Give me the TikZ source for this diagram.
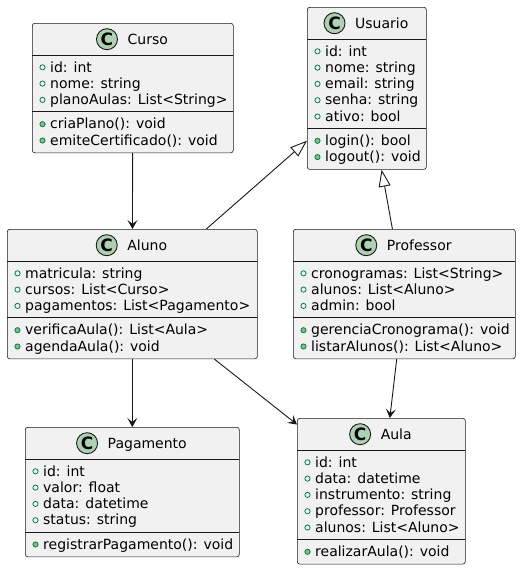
\documentclass[tikz,border=0pt]{standalone}
\usepackage{fontspec}
\setmainfont{DejaVu Sans}
\usetikzlibrary{arrows.meta}
\definecolor{boxfill}{HTML}{F1F1F1}
\definecolor{boxline}{HTML}{181818}
\definecolor{iconfill}{HTML}{ADD1B2}
\definecolor{markline}{HTML}{038048}
\definecolor{markfill}{HTML}{84BE84}
\tikzset{
  member/.style={anchor=base west, inner sep=0pt, font=\fontsize{14}{16.3}\selectfont},
  classtitle/.style={anchor=base, inner sep=0pt, text height=10.2pt, text depth=0pt, font=\fontsize{14}{16.3}\selectfont},
  classicon/.style={circle, draw=boxline, line width=0.9pt, fill=iconfill, inner sep=0pt,
    minimum size=21pt, text height=12.4pt, text depth=0pt, label distance=9.5pt,
    font=\fontsize{17}{17}\selectfont\bfseries},
  attrmark/.style={draw=markline, line width=0.8pt},
  methmark/.style={draw=markline, line width=0.8pt, fill=markfill},
  assoc/.style={draw=boxline, line width=0.9pt, -{Stealth[length=9pt, width=10pt, inset=4pt]}},
  extends/.style={draw=boxline, line width=0.9pt, -{Triangle[open, length=17pt, width=12pt, fill=white]}},
  uml class/.pic={
    \tikzset{/umlclass/.cd, #1}
    \foreach \a [count=\i] in \classattrs {\xdef\nattrs{\i}}
    \foreach \m [count=\i] in \classmethods {\xdef\nmethods{\i}}
    \pgfmathsetmacro\attrtop{32}
    \pgfmathsetmacro\methtop{32+\nattrs*16.3+8}
    \pgfmathsetmacro\classheight{\methtop+\nmethods*16.3+8}
    \node [draw=boxline, line width=0.6pt, fill=boxfill, rounded corners=2.5pt, inner sep=0pt,
      anchor=north west, minimum width=\classwidth pt, minimum height=\classheight pt] (-box) at (0,0) {};
    \draw [boxline, line width=1pt] (0,\attrtop) -- (\classwidth,\attrtop)
      (0,\methtop) -- (\classwidth,\methtop);
    \node [classtitle, label={[classicon]west:C}] (-title) at (\classwidth/2+15.25,21.3) {\classtitle};
    \foreach \a [count=\i] in \classattrs {
      \draw [attrmark] (10.5,\attrtop+12.3+\i*16.3-16.3) circle [radius=2.6pt];
      \node [member] (-attr\i) at (18,\attrtop+17+\i*16.3-16.3) {\a};
    }
    \foreach \m [count=\i] in \classmethods {
      \draw [methmark] (10.5,\methtop+12.3+\i*16.3-16.3) circle [radius=2.6pt];
      \node [member] (-meth\i) at (18,\methtop+17+\i*16.3-16.3) {\m};
    }
  },
  /umlclass/.search also={/tikz},
  /umlclass/.cd,
  title/.store in=\classtitle,
  width/.store in=\classwidth,
  attrs/.store in=\classattrs,
  methods/.store in=\classmethods,
  title=Class,
  width=100,
}
\begin{document}
\begin{tikzpicture}[x=1pt, y=-1pt]
  \useasboundingbox (0,0) rectangle (521,570);
  \pic (curso) at (32,23) {uml class={title=Curso, width=201,
    attrs={id: int, nome: string, planoAulas: List<String>},
    methods={criaPlano(): void, emiteCertificado(): void}}};
  \pic (usuario) at (307,7) {uml class={title=Usuario, width=119,
    attrs={id: int, nome: string, email: string, senha: string, ativo: bool},
    methods={login(): bool, logout(): void}}};
  \pic (aluno) at (7,229) {uml class={title=Aluno, width=250,
    attrs={matricula: string, cursos: List<Curso>, pagamentos: List<Pagamento>},
    methods={verificaAula(): List<Aula>, agendaAula(): void}}};
  \pic (professor) at (293,229) {uml class={title=Professor, width=222,
    attrs={cronogramas: List<String>, alunos: List<Aluno>, admin: bool},
    methods={gerenciaCronograma(): void, listarAlunos(): List<Aluno>}}};
  \pic (pagamento) at (25,427) {uml class={title=Pagamento, width=214,
    attrs={id: int, valor: float, data: datetime, status: string},
    methods={registrarPagamento(): void}}};
  \pic (aula) at (297,418) {uml class={title=Aula, width=168,
    attrs={id: int, data: datetime, instrumento: string, professor: Professor, alunos: List<Aluno>},
    methods={realizarAula(): void}}};
  % relations
  \draw [assoc] (curso-box) -- (aluno-box);
  \draw [extends] (aluno-box) -- (usuario-box);
  \draw [extends] (professor-box) -- (usuario-box);
  \draw [assoc] (aluno-box) -- (pagamento-box);
  \draw [assoc] (aluno-box) -- (aula-box);
  \draw [assoc] (professor-box) -- (aula-box);
\end{tikzpicture}
\end{document}
